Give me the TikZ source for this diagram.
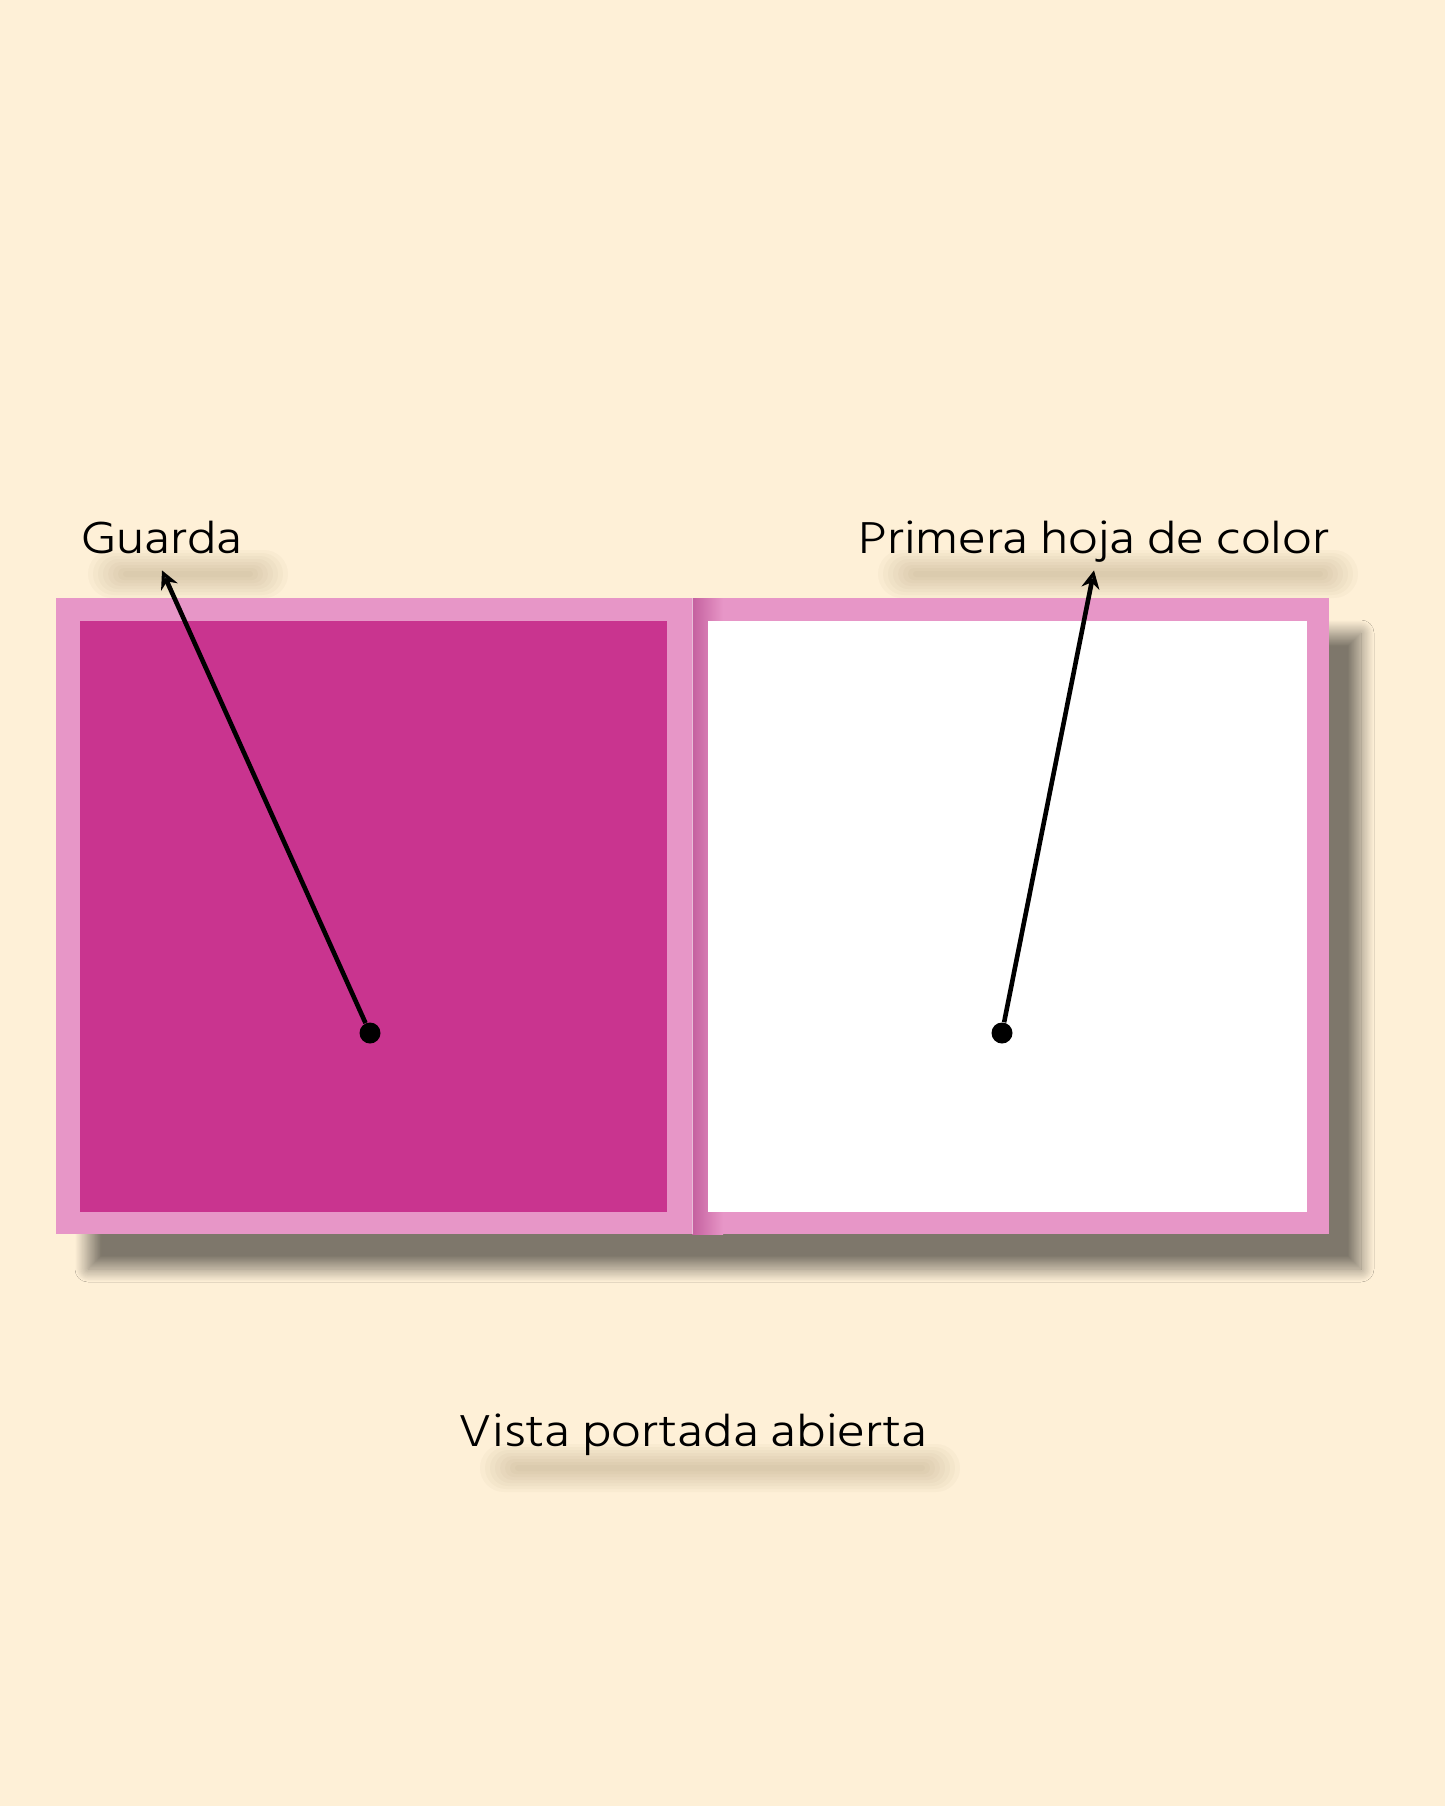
\documentclass[tikz,border=0pt]{standalone}
\usepackage{fontspec}
\setmainfont{Hind Siliguri Light}[FakeStretch=1.16]
\usetikzlibrary{positioning,calc,arrows.meta,shadows.blur,fadings}
\definecolor{mycream}{RGB}{254,240,215}
\definecolor{mypink}{RGB}{231,150,199}
\definecolor{mymagenta}{RGB}{201,52,143}
\definecolor{myspine}{RGB}{196,96,158}
\definecolor{myshade}{RGB}{150,125,90}

\begin{document}
\begin{tikzpicture}[x=0.5pt,y=-0.5pt,
  lbl/.style={font=\fontsize{22.9}{27}\selectfont,inner sep=0pt,anchor=base,text depth=8.5pt},
  dot/.style={circle,fill=black,inner sep=0pt,minimum size=10.5pt},
  pointer/.style={line width=2.3pt,-{Stealth[length=9pt,width=9pt]}},
  textshadow/.style={fill=myshade,opacity=0.045},
  booksh/.style={blur shadow={shadow xshift=16pt,shadow yshift=-17.5pt,shadow blur radius=6.5pt,shadow blur steps=24,shadow blur extra rounding=0pt,shadow opacity=50}}
]

% the background
\fill[mycream] (0,0) rectangle (1445,1806);
\useasboundingbox (0,0) rectangle (1445,1806);

% the shadows of the texts
\foreach \cx/\cy/\hw in {188/574/100,1118/574/240,720/1468/240}
  \foreach \k in {0,...,7}
    \fill[textshadow,rounded corners={(12-1.5*\k)*1pt}]
      (\cx-\hw+5*\k,\cy-24+3*\k) rectangle (\cx+\hw-5*\k,\cy+24-3*\k);

% the open cover
\fill[mypink,booksh] (56,598) rectangle (1329,1234);
\shade[left color=myspine,right color=mypink] (692,598) rectangle (723,1234);
\draw[white,opacity=0.6,line width=0.5pt] (692,598) -- (692,1234);

% the pages
\fill[mymagenta] (80,621) rectangle (667,1212);
\fill[white] (708,621) rectangle (1307,1212);

% the labels
\node[lbl] (guarda) at (162,553) {Guarda};
\node[lbl] (hoja) at (1094,553) {Primera hoja de color};
\node[lbl] (vista) at (693,1446) {Vista portada abierta};

% the points
\node[dot] (pg) at (370,1033) {};
\node[dot] (ph) at (1002,1033) {};

% the pointers
\draw[pointer] (pg) -- (guarda.south);
\draw[pointer] (ph) -- (hoja.south);
\end{tikzpicture}
\end{document}
